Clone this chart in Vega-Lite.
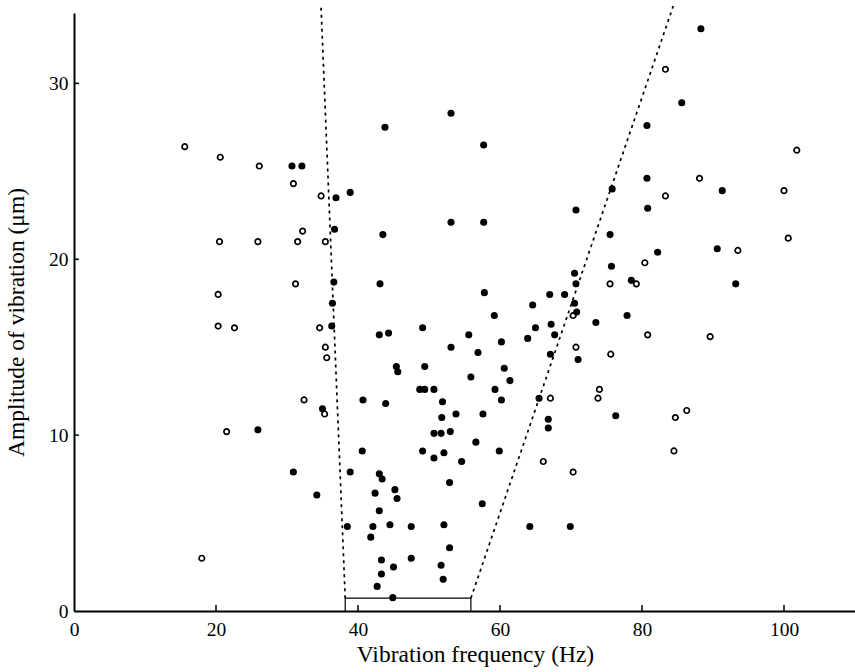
{
  "$schema": "https://vega.github.io/schema/vega-lite/v6.json",
  "width": 781,
  "height": 598,
  "autosize": {"type": "none"},
  "padding": {"left": 74, "top": 13, "right": 0, "bottom": 61},
  "background": "white",
  "config": {
    "view": {"stroke": null},
    "font": "Liberation Serif",
    "axis": {
      "domainColor": "black",
      "domainWidth": 2,
      "ticks": false,
      "grid": false,
      "labelFont": "Liberation Serif",
      "labelFontSize": 19.5,
      "labelColor": "black",
      "titleFont": "Liberation Serif",
      "titleFontSize": 23.5,
      "titleFontWeight": "normal",
      "titleColor": "black"
    }
  },
  "datasets": {
    "pts": [
      {"f": 15.6, "a": 26.4, "t": "open"}, {"f": 20.6, "a": 25.8, "t": "open"}, {"f": 26.1, "a": 25.3, "t": "open"},
      {"f": 30.9, "a": 24.3, "t": "open"}, {"f": 34.8, "a": 23.6, "t": "open"}, {"f": 83.3, "a": 30.8, "t": "open"},
      {"f": 83.3, "a": 23.6, "t": "open"}, {"f": 101.8, "a": 26.2, "t": "open"}, {"f": 88.1, "a": 24.6, "t": "open"},
      {"f": 100.0, "a": 23.9, "t": "open"}, {"f": 20.5, "a": 21.0, "t": "open"}, {"f": 25.9, "a": 21.0, "t": "open"},
      {"f": 20.3, "a": 18.0, "t": "open"}, {"f": 20.3, "a": 16.2, "t": "open"}, {"f": 22.6, "a": 16.1, "t": "open"},
      {"f": 32.2, "a": 21.6, "t": "open"}, {"f": 31.5, "a": 21.0, "t": "open"}, {"f": 35.4, "a": 21.0, "t": "open"},
      {"f": 31.2, "a": 18.6, "t": "open"}, {"f": 34.6, "a": 16.1, "t": "open"}, {"f": 35.4, "a": 15.0, "t": "open"},
      {"f": 35.6, "a": 14.4, "t": "open"}, {"f": 32.4, "a": 12.0, "t": "open"}, {"f": 35.3, "a": 11.2, "t": "open"},
      {"f": 80.4, "a": 19.8, "t": "open"}, {"f": 75.5, "a": 18.6, "t": "open"}, {"f": 79.2, "a": 18.6, "t": "open"},
      {"f": 70.3, "a": 16.8, "t": "open"}, {"f": 80.8, "a": 15.7, "t": "open"}, {"f": 70.7, "a": 15.0, "t": "open"},
      {"f": 75.6, "a": 14.6, "t": "open"}, {"f": 67.1, "a": 12.1, "t": "open"}, {"f": 74.0, "a": 12.6, "t": "open"},
      {"f": 73.8, "a": 12.1, "t": "open"}, {"f": 84.7, "a": 11.0, "t": "open"}, {"f": 86.3, "a": 11.4, "t": "open"},
      {"f": 93.5, "a": 20.5, "t": "open"}, {"f": 100.6, "a": 21.2, "t": "open"}, {"f": 89.6, "a": 15.6, "t": "open"},
      {"f": 21.5, "a": 10.2, "t": "open"}, {"f": 18.0, "a": 3.0, "t": "open"}, {"f": 66.1, "a": 8.5, "t": "open"},
      {"f": 70.3, "a": 7.9, "t": "open"}, {"f": 84.5, "a": 9.1, "t": "open"},
      {"f": 30.7, "a": 25.3, "t": "filled"}, {"f": 32.1, "a": 25.3, "t": "filled"}, {"f": 36.9, "a": 23.5, "t": "filled"},
      {"f": 38.9, "a": 23.8, "t": "filled"}, {"f": 43.8, "a": 27.5, "t": "filled"}, {"f": 53.1, "a": 28.3, "t": "filled"},
      {"f": 57.7, "a": 26.5, "t": "filled"}, {"f": 80.7, "a": 27.6, "t": "filled"}, {"f": 80.7, "a": 24.6, "t": "filled"},
      {"f": 75.8, "a": 24.0, "t": "filled"}, {"f": 70.7, "a": 22.8, "t": "filled"}, {"f": 80.8, "a": 22.9, "t": "filled"},
      {"f": 88.3, "a": 33.1, "t": "filled"}, {"f": 85.6, "a": 28.9, "t": "filled"}, {"f": 91.3, "a": 23.9, "t": "filled"},
      {"f": 36.7, "a": 21.7, "t": "filled"}, {"f": 43.5, "a": 21.4, "t": "filled"}, {"f": 53.1, "a": 22.1, "t": "filled"},
      {"f": 57.7, "a": 22.1, "t": "filled"}, {"f": 36.6, "a": 18.7, "t": "filled"}, {"f": 43.1, "a": 18.6, "t": "filled"},
      {"f": 36.4, "a": 17.5, "t": "filled"}, {"f": 36.3, "a": 16.2, "t": "filled"}, {"f": 43.0, "a": 15.7, "t": "filled"},
      {"f": 44.3, "a": 15.8, "t": "filled"}, {"f": 49.1, "a": 16.1, "t": "filled"}, {"f": 55.6, "a": 15.7, "t": "filled"},
      {"f": 53.1, "a": 15.0, "t": "filled"}, {"f": 56.9, "a": 14.7, "t": "filled"}, {"f": 45.4, "a": 13.9, "t": "filled"},
      {"f": 45.6, "a": 13.6, "t": "filled"}, {"f": 49.4, "a": 13.9, "t": "filled"}, {"f": 55.9, "a": 13.3, "t": "filled"},
      {"f": 48.7, "a": 12.6, "t": "filled"}, {"f": 49.4, "a": 12.6, "t": "filled"}, {"f": 50.7, "a": 12.6, "t": "filled"},
      {"f": 40.7, "a": 12.0, "t": "filled"}, {"f": 43.9, "a": 11.8, "t": "filled"}, {"f": 51.9, "a": 11.9, "t": "filled"},
      {"f": 35.0, "a": 11.5, "t": "filled"}, {"f": 53.8, "a": 11.2, "t": "filled"}, {"f": 51.8, "a": 11.0, "t": "filled"},
      {"f": 57.6, "a": 11.2, "t": "filled"}, {"f": 75.5, "a": 21.4, "t": "filled"}, {"f": 82.2, "a": 20.4, "t": "filled"},
      {"f": 75.7, "a": 19.6, "t": "filled"}, {"f": 70.5, "a": 19.2, "t": "filled"}, {"f": 70.7, "a": 18.6, "t": "filled"},
      {"f": 78.5, "a": 18.8, "t": "filled"}, {"f": 57.8, "a": 18.1, "t": "filled"}, {"f": 67.0, "a": 18.0, "t": "filled"},
      {"f": 69.1, "a": 18.0, "t": "filled"}, {"f": 70.5, "a": 17.5, "t": "filled"}, {"f": 64.6, "a": 17.4, "t": "filled"},
      {"f": 70.8, "a": 17.0, "t": "filled"}, {"f": 59.2, "a": 16.8, "t": "filled"}, {"f": 77.9, "a": 16.8, "t": "filled"},
      {"f": 73.5, "a": 16.4, "t": "filled"}, {"f": 67.2, "a": 16.3, "t": "filled"}, {"f": 65.0, "a": 16.1, "t": "filled"},
      {"f": 67.7, "a": 15.7, "t": "filled"}, {"f": 63.9, "a": 15.5, "t": "filled"}, {"f": 60.2, "a": 15.3, "t": "filled"},
      {"f": 67.1, "a": 14.6, "t": "filled"}, {"f": 71.0, "a": 14.3, "t": "filled"}, {"f": 60.6, "a": 13.8, "t": "filled"},
      {"f": 61.4, "a": 13.1, "t": "filled"}, {"f": 59.3, "a": 12.6, "t": "filled"}, {"f": 60.2, "a": 12.0, "t": "filled"},
      {"f": 65.5, "a": 12.1, "t": "filled"}, {"f": 76.3, "a": 11.1, "t": "filled"}, {"f": 66.8, "a": 10.9, "t": "filled"},
      {"f": 66.8, "a": 10.4, "t": "filled"}, {"f": 90.6, "a": 20.6, "t": "filled"}, {"f": 93.2, "a": 18.6, "t": "filled"},
      {"f": 25.9, "a": 10.3, "t": "filled"}, {"f": 50.7, "a": 10.1, "t": "filled"}, {"f": 51.7, "a": 10.1, "t": "filled"},
      {"f": 53.0, "a": 10.2, "t": "filled"}, {"f": 56.6, "a": 9.6, "t": "filled"}, {"f": 40.6, "a": 9.1, "t": "filled"},
      {"f": 49.1, "a": 9.1, "t": "filled"}, {"f": 50.7, "a": 8.7, "t": "filled"}, {"f": 52.1, "a": 9.0, "t": "filled"},
      {"f": 54.6, "a": 8.5, "t": "filled"}, {"f": 30.9, "a": 7.9, "t": "filled"}, {"f": 38.9, "a": 7.9, "t": "filled"},
      {"f": 43.0, "a": 7.8, "t": "filled"}, {"f": 43.4, "a": 7.5, "t": "filled"}, {"f": 52.9, "a": 7.3, "t": "filled"},
      {"f": 34.2, "a": 6.6, "t": "filled"}, {"f": 42.4, "a": 6.7, "t": "filled"}, {"f": 45.2, "a": 6.9, "t": "filled"},
      {"f": 45.5, "a": 6.4, "t": "filled"}, {"f": 57.5, "a": 6.1, "t": "filled"}, {"f": 43.0, "a": 5.7, "t": "filled"},
      {"f": 38.5, "a": 4.8, "t": "filled"}, {"f": 42.1, "a": 4.8, "t": "filled"}, {"f": 44.5, "a": 4.9, "t": "filled"},
      {"f": 47.5, "a": 4.8, "t": "filled"}, {"f": 52.1, "a": 4.9, "t": "filled"}, {"f": 41.8, "a": 4.2, "t": "filled"},
      {"f": 43.3, "a": 2.9, "t": "filled"}, {"f": 47.5, "a": 3.0, "t": "filled"}, {"f": 45.0, "a": 2.5, "t": "filled"},
      {"f": 52.9, "a": 3.6, "t": "filled"}, {"f": 51.7, "a": 2.6, "t": "filled"}, {"f": 43.3, "a": 2.1, "t": "filled"},
      {"f": 52.0, "a": 1.8, "t": "filled"}, {"f": 42.7, "a": 1.4, "t": "filled"}, {"f": 44.9, "a": 0.76, "t": "filled"},
      {"f": 59.9, "a": 9.1, "t": "filled"}, {"f": 64.2, "a": 4.8, "t": "filled"}, {"f": 69.9, "a": 4.8, "t": "filled"}
    ],
    "lines": [
      {"k": "dash", "s": "L", "o": 1, "f": 34.8, "a": 34.3},
      {"k": "dash", "s": "L", "o": 2, "f": 38.2, "a": 0.73},
      {"k": "dash", "s": "R", "o": 1, "f": 55.9, "a": 0.73},
      {"k": "dash", "s": "R", "o": 2, "f": 84.4, "a": 34.4},
      {"k": "solid", "s": "B", "o": 1, "f": 38.2, "a": 0},
      {"k": "solid", "s": "B", "o": 2, "f": 38.2, "a": 0.73},
      {"k": "solid", "s": "B", "o": 3, "f": 55.9, "a": 0.73},
      {"k": "solid", "s": "B", "o": 4, "f": 55.9, "a": 0}
    ],
    "ticks": [
      {"f": 20, "a": 0, "f2": 20, "a2": 0.34},
      {"f": 40, "a": 0, "f2": 40, "a2": 0.34},
      {"f": 60, "a": 0, "f2": 60, "a2": 0.34},
      {"f": 80, "a": 0, "f2": 80, "a2": 0.34},
      {"f": 100, "a": 0, "f2": 100, "a2": 0.34},
      {"f": 0, "a": 10, "f2": 0.7, "a2": 10},
      {"f": 0, "a": 20, "f2": 0.7, "a2": 20},
      {"f": 0, "a": 30, "f2": 0.7, "a2": 30}
    ]
  },
  "encoding": {
    "x": {
      "field": "f", "type": "quantitative",
      "scale": {"domain": [0, 110], "nice": false, "zero": false},
      "axis": {"values": [0, 20, 40, 60, 80, 100], "title": "Vibration frequency (Hz)", "labelPadding": 9, "titlePadding": 4, "labelFlush": false, "titleX": 401}
    },
    "y": {
      "field": "a", "type": "quantitative",
      "scale": {"domain": [0, 34], "nice": false, "zero": false},
      "axis": {"values": [0, 10, 20, 30], "title": "Amplitude of vibration (μm)", "labelPadding": 6, "titlePadding": 20, "labelFlush": false, "titleY": 309}
    }
  },
  "layer": [
    {
      "data": {"name": "ticks"},
      "mark": {"type": "rule", "color": "black", "strokeWidth": 1.5},
      "encoding": {"x2": {"field": "f2"}, "y2": {"field": "a2"}}
    },
    {
      "data": {"name": "lines"},
      "transform": [{"filter": "datum.k === 'solid'"}],
      "mark": {"type": "line", "color": "black", "strokeWidth": 1.2, "clip": false},
      "encoding": {"detail": {"field": "s"}, "order": {"field": "o", "type": "quantitative"}}
    },
    {
      "data": {"name": "lines"},
      "transform": [{"filter": "datum.k === 'dash'"}],
      "mark": {"type": "line", "color": "black", "strokeWidth": 1.7, "strokeDash": [3, 4], "clip": false},
      "encoding": {"detail": {"field": "s"}, "order": {"field": "o", "type": "quantitative"}}
    },
    {
      "data": {"name": "pts"},
      "transform": [{"filter": "datum.t === 'open'"}],
      "mark": {"type": "point", "shape": "circle", "filled": false, "fill": "white", "fillOpacity": 1, "stroke": "black", "strokeWidth": 1.7, "size": 30, "opacity": 1}
    },
    {
      "data": {"name": "pts"},
      "transform": [{"filter": "datum.t === 'filled'"}],
      "mark": {"type": "point", "shape": "circle", "filled": true, "color": "black", "size": 50, "opacity": 1}
    }
  ]
}
